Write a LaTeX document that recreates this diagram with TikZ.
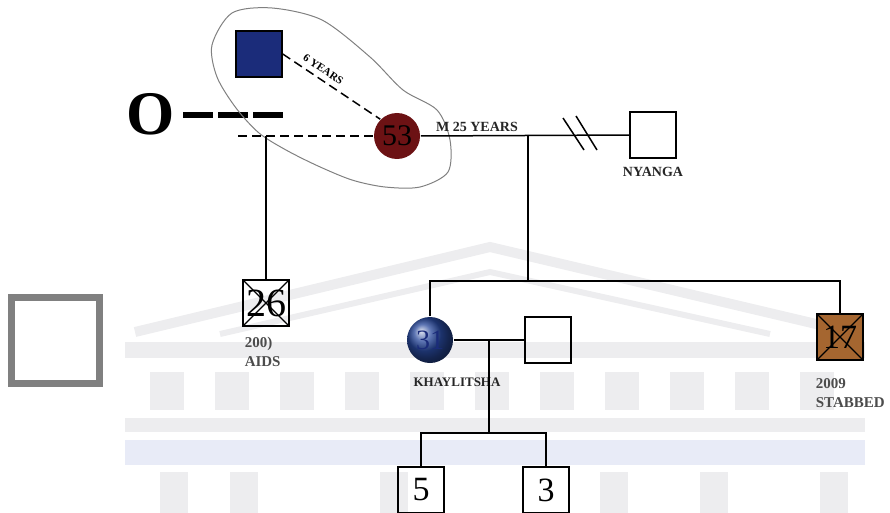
\documentclass[tikz,border=0pt]{standalone}
\usepackage{fontspec}
\setmainfont{Liberation Serif}
\usetikzlibrary{positioning}
\definecolor{navysq}{RGB}{27,44,122}
\definecolor{maroonc}{RGB}{108,18,20}
\definecolor{khayblue}{RGB}{40,72,155}
\definecolor{brownsq}{RGB}{165,102,48}
\definecolor{wmgray}{RGB}{237,237,239}
\definecolor{wmblue}{RGB}{232,235,247}
\begin{document}
\begin{tikzpicture}[x=1pt,y=-1pt,line width=1.5pt,
    male/.style={draw,line width=1.5pt,minimum size=46pt,inner sep=0pt},
    female/.style={circle,draw=none,minimum size=46pt,inner sep=0pt},
    dead/.style={path picture={\draw[line width=1.3pt] (path picture bounding box.north west)--(path picture bounding box.south east)
        (path picture bounding box.north east)--(path picture bounding box.south west);}},
    lbl/.style={font=\bfseries\fontsize{14}{15}\selectfont,inner sep=0pt,text=black!85},
    big/.style={font=\fontsize{#1}{#1}\selectfont},
    dsh/.style={dash pattern=on 9pt off 5pt}]
  \useasboundingbox (0,0) rectangle (890,513);
  % watermark building
  \draw[wmgray,line width=10pt] (135,332)--(490,247)--(850,332);
  \draw[wmgray,line width=6pt] (220,334)--(490,272)--(770,334);
  \fill[wmgray] (125,342) rectangle (865,358);
  \foreach \x in {150,215,280,345,410,475,540,605,670,735,800} \fill[wmgray] (\x,372) rectangle (\x+34,410);
  \fill[wmgray] (125,418) rectangle (865,432);
  \fill[wmblue] (125,440) rectangle (865,465);
  \foreach \x in {160,230,380,600,700,820} \fill[wmgray] (\x,472) rectangle (\x+28,513);
  % key square and O---
  \node[draw=gray,line width=7pt,minimum width=88pt,minimum height=86pt] (key) at (55.5,340.5) {};
  \node[font=\bfseries\fontsize{62}{62}\selectfont,inner sep=0pt] (oh) at (151,114) {O};
  \draw[line width=6pt,dash pattern=on 30pt off 5pt] (183,115) -- (283,115);
  % relationship blob
  \draw[gray,line width=1pt] plot[smooth cycle] coordinates {(212,45) (232,13) (272,8) (322,20) (370,57) (403,90) (437,110) (450,140) (448,172) (420,187) (385,187) (352,180) (318,166) (286,150) (259,133) (236,108) (217,77)};
  % people
  \node[male,fill=navysq] (ex) at (259,54) {};
  \node[female,fill=maroonc] (mother) at (397,136) {\fontsize{30}{30}\selectfont 53};
  \node[male] (nyanga) at (653,135) {};
  \node[male,dead,big=40] (s26) at (266,303) {26};
  \node[female,shading=ball,ball color=khayblue] (khay) at (430,340) {\fontsize{28}{28}\selectfont\color{navysq}31};
  \node[male] (spouse) at (548,340) {};
  \node[male,dead,fill=brownsq,big=34] (s17) at (840,337) {17};
  \node[male,big=34] (c5) at (421,490) {5};
  \node[male,big=34] (c3) at (546,490) {3};
  % labels
  \node[lbl,below=8pt of nyanga] (nyangalbl) {NYANGA};
  \node[lbl,anchor=west,align=left,text=black!70,font=\bfseries\fontsize{15}{19}\selectfont] (aids) at (244,352) {200)\\AIDS};
  \node[lbl,font=\bfseries\fontsize{13}{14}\selectfont] (khaylbl) at (457,382) {KHAYLITSHA};
  \node[lbl,anchor=west,align=left,text=black!70,font=\bfseries\fontsize{15}{19}\selectfont] (stab) at (815,393) {2009\\STABBED};
  \node[lbl] (m25) at (477,127) {M 25 YEARS};
  % lines
  \draw[dsh] (ex.east) -- node[pos=0.36,sloped,above=2pt,font=\bfseries\fontsize{11}{11}\selectfont] (sixy) {6 YEARS} (mother.north west);
  \coordinate (lft) at (238,136);
  \draw[dsh] (lft) -- (mother.west);
  \draw (s26.north) -- (s26.north|-lft);
  \draw (mother.east) -- (nyanga.west);
  \draw (563,118) -- (584,150) (576,116) -- (597,150);
  \coordinate (sib) at (528,281);
  \draw (sib|-nyanga) -- (sib);
  \draw (khay.north) |- (sib) -| (s17.north);
  \draw (khay.east) -- (spouse.west);
  \coordinate (kid) at (489,433);
  \draw (kid|-khay.east) -- (kid);
  \draw (c5.north) |- (kid) -| (c3.north);
\end{tikzpicture}
\end{document}
